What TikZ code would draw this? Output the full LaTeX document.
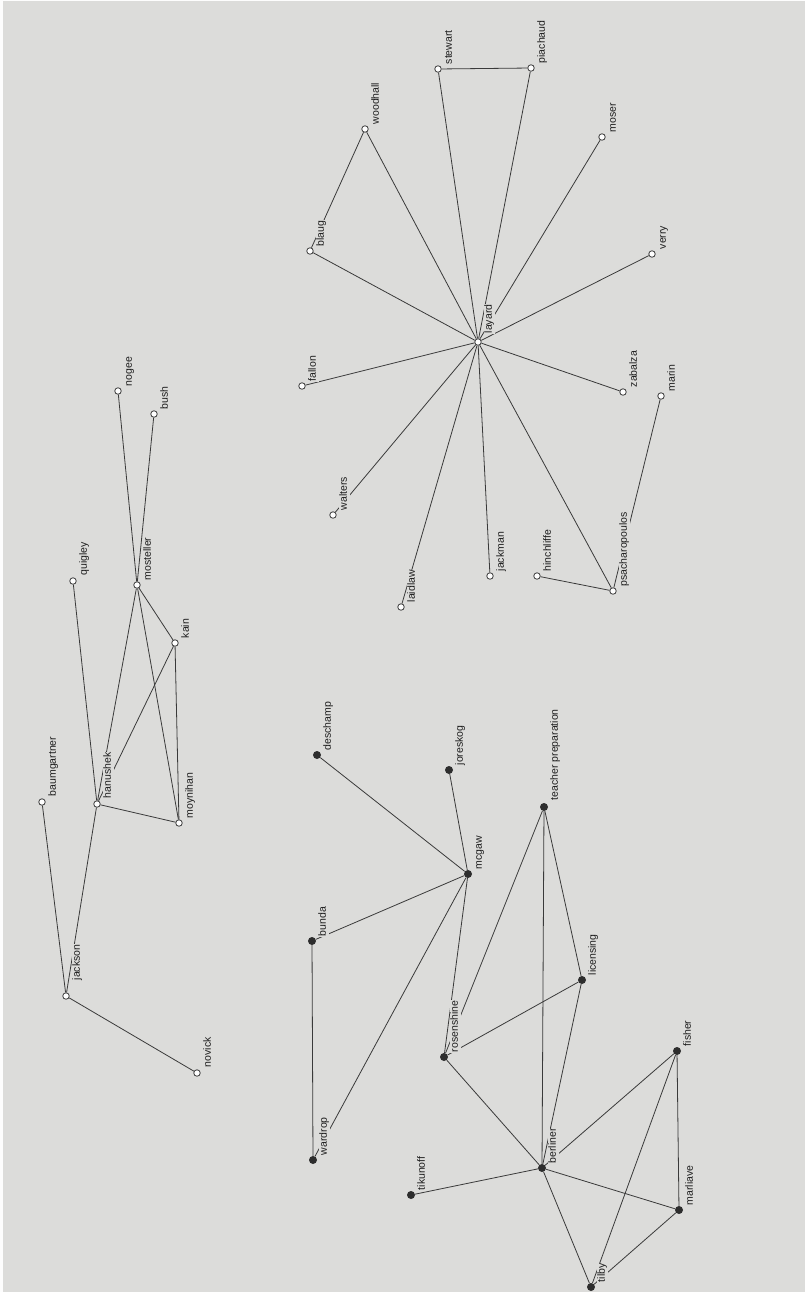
\documentclass[tikz,border=0pt]{standalone}
\usepackage{fontspec}
\newfontfamily\lblfamily{Liberation Sans}
\usetikzlibrary{calc}
\definecolor{bg}{RGB}{220,220,218}
\definecolor{edgec}{RGB}{58,58,58}
\definecolor{dotc}{RGB}{45,45,45}
\definecolor{textc}{RGB}{30,30,30}
\begin{document}
\begin{tikzpicture}[x=1pt,y=-1pt,
  opennode/.style={circle, draw=edgec, fill=white, line width=0.8pt, inner sep=0pt, minimum size=6.5pt},
  fullnode/.style={circle, fill=dotc, inner sep=0pt, minimum size=8pt},
  lbl/.style={rotate=90, anchor=north west, fill=bg, inner sep=0.6pt, text height=7.6pt, text depth=2.2pt, text=textc, font=\lblfamily\fontsize{10.5}{12}\selectfont},
  link/.style={draw=edgec, line width=0.8pt}]
\useasboundingbox (0,0) rectangle (805,1292);
\fill[bg] (0,0) rectangle (805,1292);
\fill[white!94!bg] (0,0) rectangle (3,1292);
\fill[white!94!bg] (0,0) rectangle (805,1.5);

% ---- cluster 1 ----
\node[opennode] (novick) at (197,1073) {};
\node[opennode] (jackson) at (66,996) {};
\node[opennode] (baumgartner) at (42,802) {};
\node[opennode] (hanushek) at (97,804) {};
\node[opennode] (moynihan) at (179,823) {};
\node[opennode] (quigley) at (73,581) {};
\node[opennode] (mosteller) at (137,585) {};
\node[opennode] (kain) at (175,643) {};
\node[opennode] (nogee) at (118,391) {};
\node[opennode] (bush) at (154,414) {};
% ---- cluster 2 ----
\node[opennode] (layard) at (478,342) {};
\node[opennode] (woodhall) at (365,129) {};
\node[opennode] (stewart) at (438,69) {};
\node[opennode] (piachaud) at (531,68) {};
\node[opennode] (moser) at (602,137) {};
\node[opennode] (blaug) at (310,251) {};
\node[opennode] (verry) at (652,254) {};
\node[opennode] (fallon) at (302,386) {};
\node[opennode] (zabalza) at (623,392) {};
\node[opennode] (marin) at (661,396) {};
\node[opennode] (walters) at (333,515) {};
\node[opennode] (laidlaw) at (401,607) {};
\node[opennode] (jackman) at (490,576) {};
\node[opennode] (hinchliffe) at (537,576) {};
\node[opennode] (psacharopoulos) at (613,591) {};
% ---- cluster 3 ----
\node[fullnode] (deschamp) at (317,755) {};
\node[fullnode] (joreskog) at (449,770) {};
\node[fullnode] (teacherprep) at (544,807) {};
\node[fullnode] (mcgaw) at (468,874) {};
\node[fullnode] (bunda) at (312,941) {};
\node[fullnode] (licensing) at (582,980) {};
\node[fullnode] (rosenshine) at (444,1057) {};
\node[fullnode] (fisher) at (677,1051) {};
\node[fullnode] (wardrop) at (313,1160) {};
\node[fullnode] (berliner) at (542,1168) {};
\node[fullnode] (tikunoff) at (411,1195) {};
\node[fullnode] (marliave) at (679,1210) {};
\node[fullnode] (tilby) at (591,1287) {};

% ---- edges ----
\path[link] (novick) -- (jackson);
\path[link] (jackson) -- (baumgartner);
\path[link] (jackson) -- (hanushek);
\path[link] (hanushek) -- (moynihan);
\path[link] (hanushek) -- (quigley);
\path[link] (hanushek) -- (mosteller);
\path[link] (hanushek) -- (kain);
\path[link] (mosteller) -- (moynihan);
\path[link] (mosteller) -- (kain);
\path[link] (kain) -- (moynihan);
\path[link] (mosteller) -- (nogee);
\path[link] (mosteller) -- (bush);

\foreach \t in {woodhall,stewart,piachaud,moser,blaug,verry,fallon,zabalza,walters,laidlaw,jackman,psacharopoulos}
  \path[link] (layard) -- (\t);
\path[link] (woodhall) -- (blaug);
\path[link] (stewart) -- (piachaud);
\path[link] (psacharopoulos) -- (hinchliffe);
\path[link] (psacharopoulos) -- (marin);

\path[link] (deschamp) -- (mcgaw);
\path[link] (joreskog) -- (mcgaw);
\path[link] (bunda) -- (mcgaw);
\path[link] (wardrop) -- (mcgaw);
\path[link] (bunda) -- (wardrop);
\path[link] (mcgaw) -- (rosenshine);
\path[link] (teacherprep) -- (rosenshine);
\path[link] (teacherprep) -- (berliner);
\path[link] (teacherprep) -- (licensing);
\path[link] (licensing) -- (rosenshine);
\path[link] (licensing) -- (berliner);
\path[link] (rosenshine) -- (berliner);
\path[link] (berliner) -- (tikunoff);
\path[link] (berliner) -- (marliave);
\path[link] (berliner) -- (tilby);
\path[link] (berliner) -- (fisher);
\path[link] (fisher) -- (marliave);
\path[link] (fisher) -- (tilby);
\path[link] (marliave) -- (tilby);

% ---- labels ----
\foreach \n/\txt/\dy in {
  novick/novick/-5, jackson/jackson/-15, baumgartner/baumgartner/-5, hanushek/hanushek/-5,
  moynihan/moynihan/-4, quigley/quigley/-5, mosteller/mosteller/-4, kain/kain/-4,
  nogee/nogee/-4, bush/bush/-4,
  layard/layard/-8, woodhall/woodhall/-4, stewart/stewart/-4, piachaud/piachaud/-4,
  moser/moser/-4, blaug/blaug/-4, verry/verry/-4, fallon/fallon/-4, zabalza/zabalza/-4,
  marin/marin/-4, walters/walters/-4, laidlaw/laidlaw/-4, jackman/jackman/-4,
  hinchliffe/hinchliffe/-4, psacharopoulos/psacharopoulos/-4,
  deschamp/deschamp/-4, joreskog/joreskog/-4, teacherprep/teacher preparation/-6,
  mcgaw/mcgaw/-4, bunda/bunda/-4, licensing/licensing/-4, rosenshine/rosenshine/-4,
  fisher/fisher/-4, wardrop/wardrop/-4, berliner/berliner/-4, tikunoff/tikunoff/-4,
  marliave/marliave/-4, tilby/tilby/-4}
  \node[lbl] (l-\n) at ($(\n)+(5.5,\dy)$) {\txt};
\end{tikzpicture}
\end{document}
